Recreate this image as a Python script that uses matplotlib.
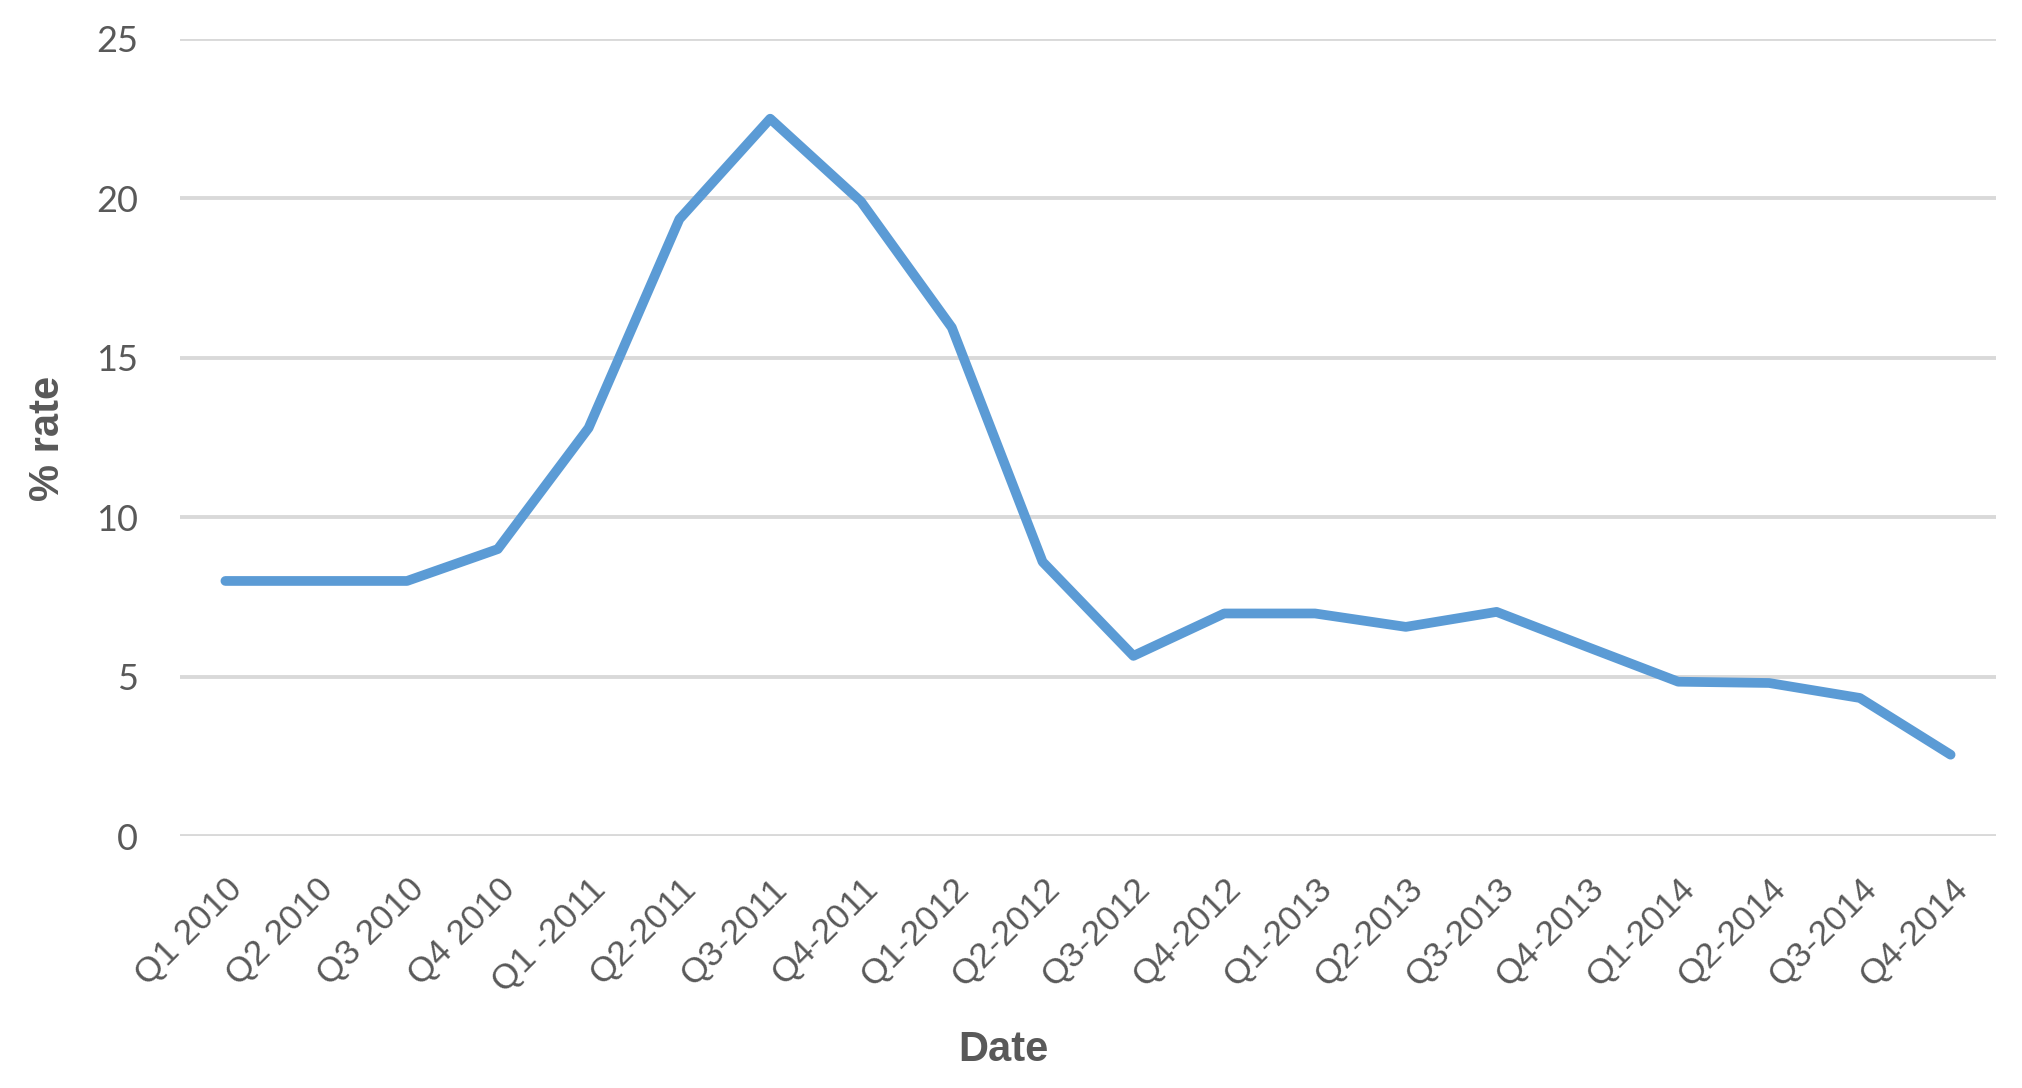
import matplotlib
matplotlib.use("Agg")
import matplotlib.pyplot as plt

categories = ["Q1 2010", "Q2 2010", "Q3 2010", "Q4 2010", "Q1 -2011", "Q2-2011",
              "Q3-2011", "Q4-2011", "Q1-2012", "Q2-2012", "Q3-2012", "Q4-2012",
              "Q1-2013", "Q2-2013", "Q3-2013", "Q4-2013", "Q1-2014", "Q2-2014",
              "Q3-2014", "Q4-2014"]
rate = [8.0, 8.0, 8.0, 9.0, 12.8, 19.35, 22.5, 19.9, 15.95, 8.6, 5.65, 6.98,
        6.98, 6.56, 7.03, 5.93, 4.84, 4.8, 4.33, 2.55]
y_ticks = [0, 5, 10, 15, 20, 25]

LINE = "#5B9BD5"
GRID = "#D9D9D9"
TXT = "#595959"

fig = plt.figure(figsize=(20.22, 10.88), dpi=100)
ax = fig.add_axes([180/2022, 1-836/1088, (1996-180)/2022, (836-39)/1088])

x = list(range(len(categories)))
ax.plot(x, rate, color=LINE, lw=7, solid_capstyle="round", solid_joinstyle="round", zorder=3)

ax.set_xlim(-0.5, len(categories) - 0.5)
ax.set_ylim(0, 25)
ax.set_yticks(y_ticks)
ax.set_yticklabels([str(v) for v in y_ticks], fontsize=26, color=TXT, family=["Lato", "DejaVu Sans"])
ax.set_xticks(x)
ax.set_xticklabels(categories, rotation=45, ha="right", va="top", rotation_mode="anchor",
                   fontsize=25.5, color=TXT, family=["Liberation Sans", "DejaVu Sans"])
ax.tick_params(axis="both", length=0)
ax.tick_params(axis="y", pad=30)
ax.tick_params(axis="x", pad=26)
ax.grid(axis="y", color=GRID, lw=2.8, zorder=0)
ax.set_axisbelow(True)
for s in ax.spines.values():
    s.set_visible(False)

fig.text(1003/2022, 1-1050/1088, "Date", ha="center", va="center", fontsize=30,
         fontweight="bold", color=TXT, family=["Liberation Sans", "DejaVu Sans"])
fig.text(48/2022, 1-438/1088, "% rate", ha="center", va="center", rotation=90, fontsize=30,
         fontweight="bold", color=TXT, family=["Liberation Sans", "DejaVu Sans"])

fig.savefig("out.png", dpi=100, facecolor="white")
